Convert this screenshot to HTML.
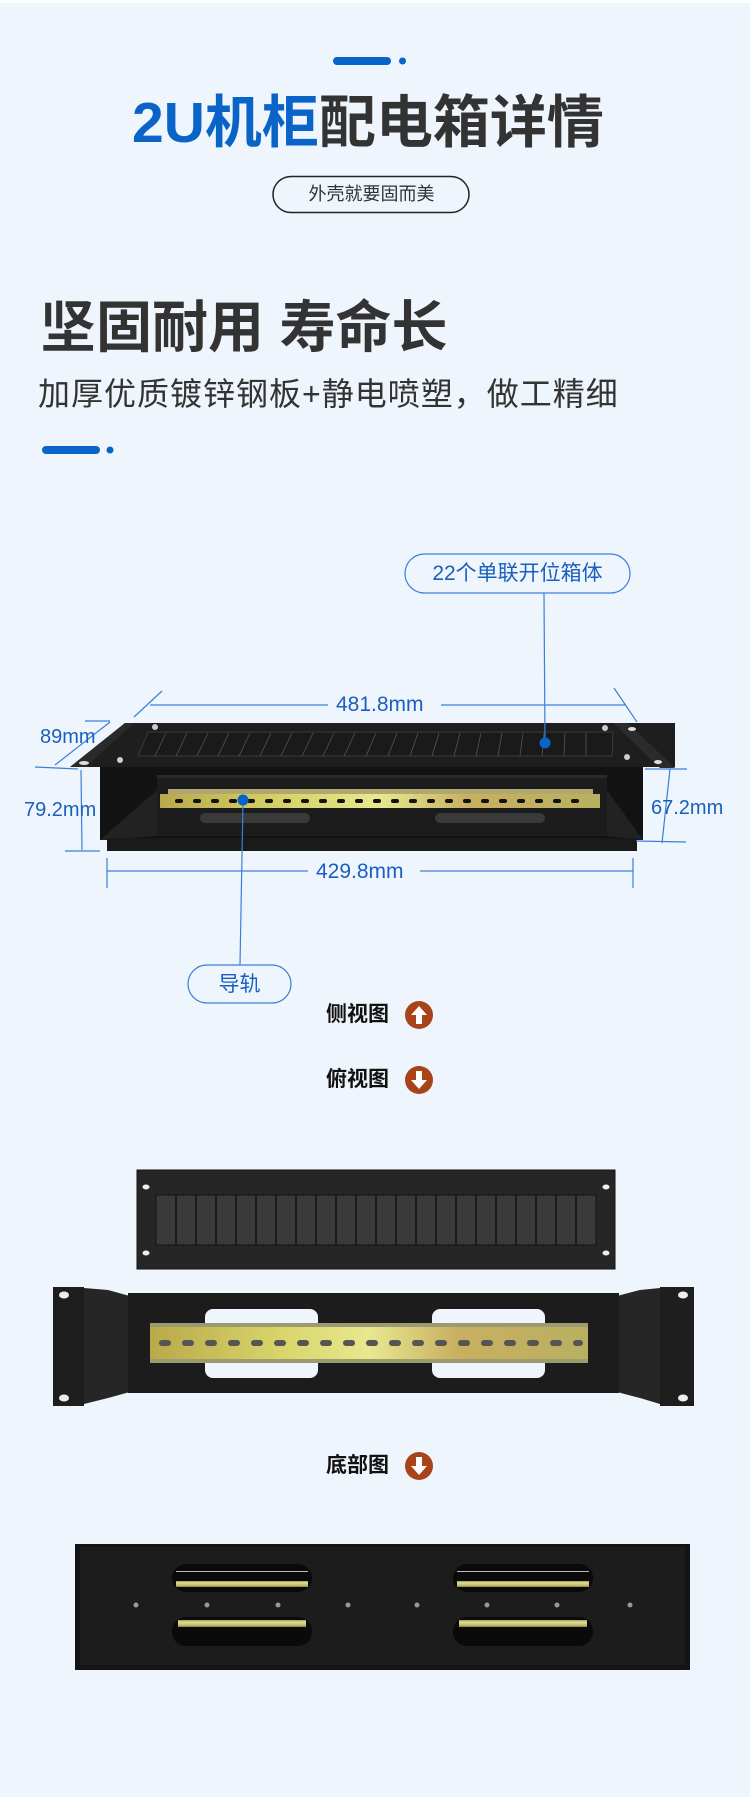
<!DOCTYPE html>
<html><head><meta charset="utf-8">
<style>
html,body{margin:0;padding:0;}
body{width:750px;height:1797px;background:#eef5fc;position:relative;overflow:hidden;font-family:"Liberation Sans","Noto Sans CJK SC",sans-serif;}
.t{position:absolute;white-space:nowrap;line-height:1;}
</style></head><body>
<div style="position:absolute;left:0;top:0;width:750px;height:3px;background:#fff"></div>
<svg width="750" height="1797" style="position:absolute;left:0;top:0">
<defs>
<linearGradient id="rail" x1="0" y1="0" x2="1" y2="0">
<stop offset="0" stop-color="#b9a94a"/><stop offset="0.3" stop-color="#d8d56a"/><stop offset="0.5" stop-color="#e8e890"/><stop offset="0.7" stop-color="#c8b060"/><stop offset="1" stop-color="#b8b060"/>
</linearGradient>
<linearGradient id="railv" x1="0" y1="0" x2="0" y2="1">
<stop offset="0" stop-color="#9a9a70"/><stop offset="0.3" stop-color="#e0df88"/><stop offset="0.7" stop-color="#c8c070"/><stop offset="1" stop-color="#8a8450"/>
</linearGradient>
</defs>
<rect x="333" y="57" width="58" height="8" rx="4" fill="#0a64c8"/>
<circle cx="402.5" cy="61" r="3.5" fill="#0a64c8"/>
<rect x="42" y="446" width="58" height="8" rx="4" fill="#0a64c8"/>
<circle cx="110" cy="450" r="3.5" fill="#0a64c8"/>
<rect x="273" y="176.5" width="196" height="36" rx="18" fill="none" stroke="#222" stroke-width="1.5"/>
<rect x="405" y="554" width="225" height="39" rx="19.5" fill="none" stroke="#3a80d8" stroke-width="1.2"/>
<rect x="188" y="965" width="103" height="38" rx="19" fill="none" stroke="#3a80d8" stroke-width="1.2"/>

<polygon points="125,723 675,723 675,767 70,767" fill="#1e1e1e"/>
<polygon points="70,767 125,723 134,723 86,767" fill="#2a2a2a"/>
<polygon points="613,723 628,723 675,768 660,768" fill="#2b2b2b"/>
<polygon points="148,732 613,732 612,756 138,756" fill="#1a1a1a" stroke="#444" stroke-width="0.8"/>
<g stroke="#555" stroke-width="0.8">
<line x1="166" y1="733" x2="155" y2="756"/><line x1="187" y1="733" x2="176" y2="756"/><line x1="208" y1="733" x2="197" y2="756"/><line x1="229" y1="733" x2="218" y2="756"/><line x1="250" y1="733" x2="239" y2="756"/><line x1="271" y1="733" x2="260" y2="756"/><line x1="292" y1="733" x2="281" y2="756"/><line x1="313" y1="733" x2="302" y2="756"/><line x1="334" y1="733" x2="323" y2="756"/><line x1="355" y1="733" x2="344" y2="756"/><line x1="376" y1="733" x2="366" y2="756"/><line x1="397" y1="733" x2="388" y2="756"/><line x1="418" y1="733" x2="410" y2="756"/><line x1="439" y1="733" x2="432" y2="756"/><line x1="460" y1="733" x2="454" y2="756"/><line x1="481" y1="733" x2="476" y2="756"/><line x1="502" y1="733" x2="498" y2="756"/><line x1="523" y1="733" x2="520" y2="756"/><line x1="544" y1="733" x2="542" y2="756"/><line x1="565" y1="733" x2="564" y2="756"/><line x1="586" y1="733" x2="586" y2="756"/>
</g>
<circle cx="155" cy="727" r="3" fill="#ccc"/><circle cx="120" cy="760" r="3" fill="#ccc"/>
<circle cx="605" cy="728" r="3" fill="#ccc"/><circle cx="627" cy="757" r="3" fill="#ccc"/>
<ellipse cx="84" cy="763" rx="5" ry="2" fill="#ddd"/><ellipse cx="632" cy="729" rx="4" ry="2" fill="#ddd"/><ellipse cx="658" cy="762" rx="4" ry="2" fill="#ddd"/>
<rect x="100" y="767" width="543" height="73" fill="#121212"/>
<rect x="157" y="775" width="450" height="61" fill="#2a2a2a"/>
<polygon points="157,778 607,778 607,836 157,836" fill="#1c1c1c"/>
<polygon points="100,840 157,790 157,836" fill="#222"/>
<polygon points="643,840 607,790 607,836" fill="#222"/>
<rect x="168" y="789" width="425" height="5" fill="#b0a870"/>
<rect x="160" y="794" width="440" height="14" fill="url(#rail)"/>
<g fill="#111">
<rect x="175" y="799" width="8" height="4" rx="2"/><rect x="193" y="799" width="8" height="4" rx="2"/><rect x="211" y="799" width="8" height="4" rx="2"/><rect x="229" y="799" width="8" height="4" rx="2"/><rect x="247" y="799" width="8" height="4" rx="2"/><rect x="265" y="799" width="8" height="4" rx="2"/><rect x="283" y="799" width="8" height="4" rx="2"/><rect x="301" y="799" width="8" height="4" rx="2"/><rect x="319" y="799" width="8" height="4" rx="2"/><rect x="337" y="799" width="8" height="4" rx="2"/><rect x="355" y="799" width="8" height="4" rx="2"/><rect x="373" y="799" width="8" height="4" rx="2"/><rect x="391" y="799" width="8" height="4" rx="2"/><rect x="409" y="799" width="8" height="4" rx="2"/><rect x="427" y="799" width="8" height="4" rx="2"/><rect x="445" y="799" width="8" height="4" rx="2"/><rect x="463" y="799" width="8" height="4" rx="2"/><rect x="481" y="799" width="8" height="4" rx="2"/><rect x="499" y="799" width="8" height="4" rx="2"/><rect x="517" y="799" width="8" height="4" rx="2"/><rect x="535" y="799" width="8" height="4" rx="2"/><rect x="553" y="799" width="8" height="4" rx="2"/><rect x="571" y="799" width="8" height="4" rx="2"/>
</g>
<rect x="200" y="813" width="110" height="10" rx="5" fill="#3a3a3a"/><rect x="435" y="813" width="110" height="10" rx="5" fill="#3a3a3a"/>
<rect x="107" y="838" width="530" height="13" fill="#1a1a1a"/>
<g stroke="#3a80d8" stroke-width="1.2" fill="none">
<line x1="150" y1="705" x2="328" y2="705"/><line x1="441" y1="705" x2="625" y2="705"/>
<line x1="134" y1="717" x2="162" y2="691"/><line x1="614" y1="688" x2="637" y2="722"/>
<line x1="85" y1="721" x2="110" y2="721"/><line x1="55" y1="765" x2="110" y2="722"/>
<line x1="35" y1="767" x2="78" y2="769"/><line x1="81" y1="770" x2="82" y2="850"/><line x1="65" y1="851" x2="100" y2="851"/>
<line x1="645" y1="769" x2="687" y2="769"/><line x1="670" y1="769" x2="662" y2="843"/><line x1="636" y1="841" x2="686" y2="842"/>
<line x1="107" y1="871" x2="308" y2="871"/><line x1="420" y1="871" x2="633" y2="871"/>
<line x1="107" y1="858" x2="107" y2="888"/><line x1="633" y1="858" x2="633" y2="888"/>
<line x1="544" y1="593" x2="545" y2="743"/><line x1="243" y1="800" x2="240" y2="965"/>
</g>
<circle cx="545" cy="743" r="5.5" fill="#0a64c8"/>
<circle cx="243" cy="800" r="5.5" fill="#0a64c8"/>
<g>
<circle cx="419" cy="1015" r="14" fill="#a8431a"/>
<polygon points="419,1006 427,1015 422,1015 422,1024 416,1024 416,1015 411,1015" fill="#fff"/>
<circle cx="419" cy="1080" r="14" fill="#a8431a"/>
<polygon points="419,1089 427,1080 422,1080 422,1071 416,1071 416,1080 411,1080" fill="#fff"/>
<circle cx="419" cy="1466" r="14" fill="#a8431a"/>
<polygon points="419,1475 427,1466 422,1466 422,1457 416,1457 416,1466 411,1466" fill="#fff"/>
</g>
<rect x="137" y="1170" width="478" height="99" fill="#262626" stroke="#111"/>
<rect x="156" y="1195" width="440" height="50" fill="#3a3a3a" stroke="#111"/>
<g stroke="#111" stroke-width="1.5">
<line x1="176" y1="1195" x2="176" y2="1245"/><line x1="196" y1="1195" x2="196" y2="1245"/><line x1="216" y1="1195" x2="216" y2="1245"/><line x1="236" y1="1195" x2="236" y2="1245"/><line x1="256" y1="1195" x2="256" y2="1245"/><line x1="276" y1="1195" x2="276" y2="1245"/><line x1="296" y1="1195" x2="296" y2="1245"/><line x1="316" y1="1195" x2="316" y2="1245"/><line x1="336" y1="1195" x2="336" y2="1245"/><line x1="356" y1="1195" x2="356" y2="1245"/><line x1="376" y1="1195" x2="376" y2="1245"/><line x1="396" y1="1195" x2="396" y2="1245"/><line x1="416" y1="1195" x2="416" y2="1245"/><line x1="436" y1="1195" x2="436" y2="1245"/><line x1="456" y1="1195" x2="456" y2="1245"/><line x1="476" y1="1195" x2="476" y2="1245"/><line x1="496" y1="1195" x2="496" y2="1245"/><line x1="516" y1="1195" x2="516" y2="1245"/><line x1="536" y1="1195" x2="536" y2="1245"/><line x1="556" y1="1195" x2="556" y2="1245"/><line x1="576" y1="1195" x2="576" y2="1245"/>
</g>
<ellipse cx="146" cy="1187" rx="3.5" ry="2.5" fill="#eee"/><ellipse cx="606" cy="1187" rx="3.5" ry="2.5" fill="#eee"/>
<ellipse cx="146" cy="1253" rx="3.5" ry="2.5" fill="#eee"/><ellipse cx="606" cy="1253" rx="3.5" ry="2.5" fill="#eee"/>
<rect x="53" y="1287" width="31" height="119" fill="#1e1e1e"/>
<rect x="660" y="1287" width="34" height="119" fill="#1e1e1e"/>
<polygon points="84,1288 108,1290 130,1296 130,1392 108,1398 84,1404" fill="#262626"/>
<polygon points="660,1288 640,1290 617,1296 617,1392 640,1398 660,1404" fill="#262626"/>
<rect x="128" y="1293" width="491" height="100" fill="#1c1c1c"/>
<rect x="205" y="1309" width="113" height="69" rx="8" fill="#eef5fc"/>
<rect x="432" y="1309" width="113" height="69" rx="8" fill="#eef5fc"/>
<rect x="150" y="1323" width="438" height="40" fill="url(#rail)"/>
<rect x="150" y="1323" width="438" height="4" fill="#9c9a70"/><rect x="150" y="1359" width="438" height="4" fill="#9c9a70"/>
<g fill="#555">
<rect x="159" y="1340" width="12" height="6" rx="3"/><rect x="182" y="1340" width="12" height="6" rx="3"/><rect x="205" y="1340" width="12" height="6" rx="3"/><rect x="228" y="1340" width="12" height="6" rx="3"/><rect x="251" y="1340" width="12" height="6" rx="3"/><rect x="274" y="1340" width="12" height="6" rx="3"/><rect x="297" y="1340" width="12" height="6" rx="3"/><rect x="320" y="1340" width="12" height="6" rx="3"/><rect x="343" y="1340" width="12" height="6" rx="3"/><rect x="366" y="1340" width="12" height="6" rx="3"/><rect x="389" y="1340" width="12" height="6" rx="3"/><rect x="412" y="1340" width="12" height="6" rx="3"/><rect x="435" y="1340" width="12" height="6" rx="3"/><rect x="458" y="1340" width="12" height="6" rx="3"/><rect x="481" y="1340" width="12" height="6" rx="3"/><rect x="504" y="1340" width="12" height="6" rx="3"/><rect x="527" y="1340" width="12" height="6" rx="3"/><rect x="550" y="1340" width="12" height="6" rx="3"/><rect x="573" y="1340" width="10" height="6" rx="3"/>
</g>
<ellipse cx="64" cy="1295" rx="5" ry="3.5" fill="#eee"/><ellipse cx="64" cy="1398" rx="5" ry="3.5" fill="#eee"/>
<ellipse cx="683" cy="1295" rx="5" ry="3.5" fill="#eee"/><ellipse cx="683" cy="1398" rx="5" ry="3.5" fill="#eee"/>
<rect x="75" y="1544" width="615" height="126" fill="#141414"/>
<rect x="80" y="1547" width="605" height="118" fill="#1c1c1c"/>
<rect x="172" y="1564" width="140" height="28" rx="14" fill="#0a0a0a"/>
<rect x="453" y="1564" width="140" height="28" rx="14" fill="#0a0a0a"/>
<rect x="176" y="1581" width="132" height="6" fill="url(#railv)"/>
<rect x="457" y="1581" width="132" height="6" fill="url(#railv)"/>
<rect x="176" y="1571" width="132" height="1" fill="#bbb"/><rect x="457" y="1571" width="132" height="1" fill="#bbb"/>
<rect x="172" y="1617" width="140" height="29" rx="14" fill="#0a0a0a"/>
<rect x="453" y="1617" width="140" height="29" rx="14" fill="#0a0a0a"/>
<rect x="178" y="1620" width="128" height="7" fill="url(#railv)"/>
<rect x="459" y="1620" width="128" height="7" fill="url(#railv)"/>
<g fill="#999">
<circle cx="136" cy="1605" r="2.5"/><circle cx="207" cy="1605" r="2.5"/><circle cx="278" cy="1605" r="2.5"/><circle cx="348" cy="1605" r="2.5"/><circle cx="417" cy="1605" r="2.5"/><circle cx="487" cy="1605" r="2.5"/><circle cx="557" cy="1605" r="2.5"/><circle cx="630" cy="1605" r="2.5"/>
</g>
</svg>

<div class="t" style="left:132px;top:95px;font-size:57px;font-weight:bold;color:#333"><span style="color:#0a64c8">2U机柜</span>配电箱详情</div>
<div class="t" style="left:273px;top:185px;width:197px;text-align:center;font-size:18px;color:#333">外壳就要固而美</div>
<div class="t" style="left:40px;top:300px;font-size:56px;font-weight:bold;color:#333">坚固耐用 寿命长</div>
<div class="t" style="left:38px;top:378px;font-size:32px;letter-spacing:1px;color:#333">加厚优质镀锌钢板+静电喷塑，做工精细</div>

<div class="t" style="left:405px;top:563px;width:225px;text-align:center;font-size:21px;color:#1a5fc0">22个单联开位箱体</div>
<div class="t" style="left:188px;top:974px;width:103px;text-align:center;font-size:21px;color:#1a5fc0">导轨</div>
<div class="t" style="left:336px;top:694px;font-size:21px;color:#1a5fc0">481.8mm</div>
<div class="t" style="left:316px;top:861px;font-size:21px;color:#1a5fc0">429.8mm</div>
<div class="t" style="left:40px;top:727px;font-size:20px;color:#1a5fc0">89mm</div>
<div class="t" style="left:24px;top:800px;font-size:20px;color:#1a5fc0">79.2mm</div>
<div class="t" style="left:651px;top:798px;font-size:20px;color:#1a5fc0">67.2mm</div>

<div class="t" style="left:326px;top:1004px;font-size:21px;font-weight:bold;color:#111">侧视图</div>
<div class="t" style="left:326px;top:1069px;font-size:21px;font-weight:bold;color:#111">俯视图</div>
<div class="t" style="left:326px;top:1455px;font-size:21px;font-weight:bold;color:#111">底部图</div>
</body></html>
